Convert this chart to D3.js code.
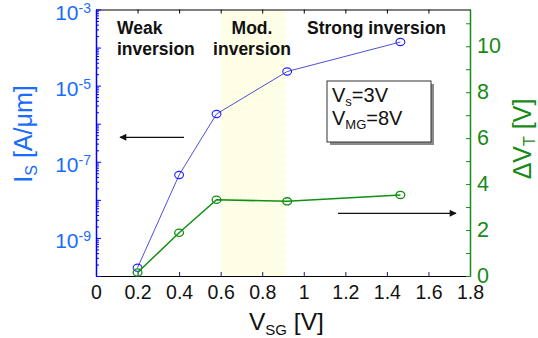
<!DOCTYPE html>
<html>
<head>
<meta charset="utf-8">
<script src="https://cdn.jsdelivr.net/npm/d3@7"></script>
<style>
  html, body { margin: 0; padding: 0; background: #fff; }
  svg { display: block; font-family: "Liberation Sans", Arial, sans-serif; }
</style>
</head>
<body>
<svg id="chart" width="538" height="338"></svg>
<script>
// Gate voltage sweep points
const vsg = [0.2, 0.4, 0.58, 0.92, 1.465];
// Source current (A/µm), log axis on the left
const current = [1.65e-10, 4.5e-8, 1.8e-6, 2.35e-5, 1.4e-4];
// Threshold voltage shift (V), linear axis on the right
const deltaVt = [0.15, 1.88, 3.32, 3.25, 3.53];

// Axis ticks
const xTicks = [0, 0.2, 0.4, 0.6, 0.8, 1, 1.2, 1.4, 1.6, 1.8];
const leftExponents = [-3, -5, -7, -9];
const rightTicks = [0, 2, 4, 6, 8, 10];
const rightMinor = [1, 3, 5, 7, 9, 11];

// Moderate inversion band (V_SG range)
const modBand = [0.6, 0.91];

const blue = "#1a6cff";
const blueAxis = "#0000ff";
const blueLine = "#3b3bd0";
const green = "#178a17";
const greenLine = "#109010";
const FONT = "'Liberation Sans', Arial, sans-serif";

const L = 96, R = 470, T = 9.5, B = 276;

const x = d3.scaleLinear().domain([0, 1.8]).range([L, R]);
const yL = d3.scaleLog().domain([1e-10, 1e-3]).range([B, T]);
const yR = d3.scaleLinear().domain([0, 11.6]).range([B, T]);

const svg = d3.select("#chart");
const defs = svg.append("defs");

// dotted pale-yellow fill for the moderate-inversion band
const pat = defs.append("pattern")
  .attr("id", "dots").attr("width", 2).attr("height", 2)
  .attr("patternUnits", "userSpaceOnUse");
pat.append("rect").attr("width", 2).attr("height", 2).attr("fill", "#fffff2");
pat.append("rect").attr("width", 1).attr("height", 1).attr("fill", "#fcfcc4");

svg.append("rect")
  .attr("x", x(modBand[0])).attr("y", T)
  .attr("width", x(modBand[1]) - x(modBand[0]))
  .attr("height", B - T)
  .attr("fill", "url(#dots)");

// frame: top and bottom axes
const bottomAxis = svg.append("g")
  .attr("transform", `translate(0,${B})`)
  .call(d3.axisBottom(x).tickValues(xTicks).tickSizeInner(-4).tickSizeOuter(0)
        .tickPadding(9.5).tickFormat(d => d3.format("")(d)));
bottomAxis.select(".domain").attr("stroke", "#000").attr("stroke-width", 1.2);
bottomAxis.selectAll(".tick line").attr("stroke", "#1a1a80");
bottomAxis.selectAll(".tick text")
  .attr("font-size", 19.5).attr("fill", "#111").attr("font-family", FONT);

const topAxis = svg.append("g")
  .attr("transform", `translate(0,${T})`)
  .call(d3.axisTop(x).tickValues(xTicks).tickSizeInner(-4).tickSizeOuter(0).tickFormat(""));
topAxis.select(".domain").attr("stroke", "#000").attr("stroke-width", 1);
topAxis.selectAll(".tick line").attr("stroke", "#000");

// left log axis
const minorLog = [];
for (let e = -10; e < -3; e++) for (let m = 2; m <= 9; m++) minorLog.push(m * Math.pow(10, e));
const majorLog = d3.range(-10, -2).map(e => Math.pow(10, e));

const leftMinor = svg.append("g")
  .attr("transform", `translate(${L},0)`)
  .call(d3.axisLeft(yL).tickValues(minorLog).tickSizeInner(-3).tickSizeOuter(0).tickFormat(""));
leftMinor.select(".domain").remove();
leftMinor.selectAll(".tick line").attr("stroke", blueAxis);

const leftAxis = svg.append("g")
  .attr("transform", `translate(${L},0)`)
  .call(d3.axisLeft(yL).tickValues(majorLog).tickSizeInner(-5).tickSizeOuter(0).tickFormat(""));
leftAxis.select(".domain").attr("stroke", blueAxis).attr("stroke-width", 1.5);
leftAxis.selectAll(".tick line").attr("stroke", blueAxis);

// decade labels with superscript exponents
const leftLabels = svg.append("g").attr("font-size", 21).attr("fill", blue).attr("text-anchor", "end");
leftExponents.forEach(e => {
  const t = leftLabels.append("text")
    .attr("x", 91).attr("y", yL(Math.pow(10, e)) + 10.5);
  t.append("tspan").text("10");
  t.append("tspan").attr("font-size", 14).attr("dy", -7).text(String(e));
});

// right linear axis
const rightMinorG = svg.append("g")
  .attr("transform", `translate(${R},0)`)
  .call(d3.axisRight(yR).tickValues(rightMinor).tickSizeInner(-4).tickSizeOuter(0).tickFormat(""));
rightMinorG.select(".domain").remove();
rightMinorG.selectAll(".tick line").attr("stroke", green);

const rightAxis = svg.append("g")
  .attr("transform", `translate(${R},0)`)
  .call(d3.axisRight(yR).tickValues(rightTicks).tickSizeInner(-4).tickSizeOuter(0).tickPadding(7));
rightAxis.select(".domain").attr("stroke", green).attr("stroke-width", 1.5);
rightAxis.selectAll(".tick line").attr("stroke", green);
rightAxis.selectAll(".tick text")
  .attr("font-size", 21.5).attr("fill", green).attr("font-family", FONT)
  .attr("dy", "0.28em");

// region labels
const regions = svg.append("g").attr("font-size", 17.5).attr("font-weight", "bold").attr("fill", "#111");
regions.append("text").attr("x", 117).attr("y", 34).text("Weak");
regions.append("text").attr("x", 117).attr("y", 55).text("inversion");
regions.append("text").attr("x", 252).attr("y", 34).attr("text-anchor", "middle").text("Mod.");
regions.append("text").attr("x", 252).attr("y", 55).attr("text-anchor", "middle").text("inversion");
regions.append("text").attr("x", 307).attr("y", 34).text("Strong inversion");

// current curve (left axis)
const pts = vsg.map((v, i) => ({ v, c: current[i], d: deltaVt[i] }));
svg.append("path")
  .datum(pts)
  .attr("fill", "none").attr("stroke", blueLine).attr("stroke-width", 0.9)
  .attr("d", d3.line().x(d => x(d.v)).y(d => yL(d.c)));
svg.selectAll("ellipse.is").data(pts).join("ellipse")
  .attr("class", "is")
  .attr("cx", d => x(d.v)).attr("cy", d => yL(d.c)).attr("rx", 4.4).attr("ry", 3.6)
  .attr("fill", "none").attr("stroke", "#2020ff").attr("stroke-width", 1.1);

// threshold shift curve (right axis)
svg.append("path")
  .datum(pts)
  .attr("fill", "none").attr("stroke", greenLine).attr("stroke-width", 1.5)
  .attr("d", d3.line().x(d => x(d.v)).y(d => yR(d.d)));
svg.selectAll("ellipse.vt").data(pts).join("ellipse")
  .attr("class", "vt")
  .attr("cx", d => x(d.v)).attr("cy", d => yR(d.d)).attr("rx", 4.4).attr("ry", 3.6)
  .attr("fill", "none").attr("stroke", greenLine).attr("stroke-width", 1.3);

// arrows pointing to each curve's axis
defs.append("marker")
  .attr("id", "head").attr("viewBox", "0 0 10 10")
  .attr("refX", 9).attr("refY", 5)
  .attr("markerWidth", 9).attr("markerHeight", 7)
  .attr("markerUnits", "userSpaceOnUse")
  .attr("orient", "auto")
  .append("path").attr("d", "M0,0 L10,5 L0,10 Z").attr("fill", "#111");
svg.append("line")
  .attr("x1", 184).attr("y1", 137.3).attr("x2", 120).attr("y2", 137.3)
  .attr("stroke", "#111").attr("stroke-width", 1.3).attr("marker-end", "url(#head)");
svg.append("line")
  .attr("x1", 338).attr("y1", 213.3).attr("x2", 456).attr("y2", 213.3)
  .attr("stroke", "#111").attr("stroke-width", 1.3).attr("marker-end", "url(#head)");

// bias condition box
svg.append("rect").attr("x", 330).attr("y", 84).attr("width", 104).attr("height", 61).attr("fill", "#8a8a8a");
svg.append("rect").attr("x", 327).attr("y", 81).attr("width", 104).attr("height", 61)
  .attr("fill", "#fff").attr("stroke", "#333").attr("stroke-width", 1);
const box = svg.append("g").attr("font-size", 20).attr("fill", "#111");
const t1 = box.append("text").attr("x", 332).attr("y", 102);
t1.append("tspan").text("V");
t1.append("tspan").attr("font-size", 13).attr("dy", 4).text("s");
t1.append("tspan").attr("dy", -4).text("=3V");
const t2 = box.append("text").attr("x", 332).attr("y", 125);
t2.append("tspan").text("V");
t2.append("tspan").attr("font-size", 13).attr("dy", 4).text("MG");
t2.append("tspan").attr("dy", -4).text("=8V");

// axis titles
const xt = svg.append("text").attr("x", 249).attr("y", 330).attr("font-size", 24.5).attr("fill", "#111");
xt.append("tspan").text("V");
xt.append("tspan").attr("font-size", 15).attr("dy", 5).text("SG");
xt.append("tspan").attr("dy", -5).text(" [V]");

const lt = svg.append("text")
  .attr("transform", "translate(32,134) rotate(-90)")
  .attr("text-anchor", "middle").attr("font-size", 25).attr("fill", blue);
lt.append("tspan").text("I");
lt.append("tspan").attr("font-size", 16).attr("dy", 5).text("S");
lt.append("tspan").attr("dy", -5).text(" [A/μm]");

const rt = svg.append("text")
  .attr("transform", "translate(531,139) rotate(-90)")
  .attr("text-anchor", "middle").attr("font-size", 25).attr("fill", green);
rt.append("tspan").text("ΔV");
rt.append("tspan").attr("font-size", 16).attr("dy", 4).text("T");
rt.append("tspan").attr("dy", -4).text(" [V]");
</script>
</body>
</html>
